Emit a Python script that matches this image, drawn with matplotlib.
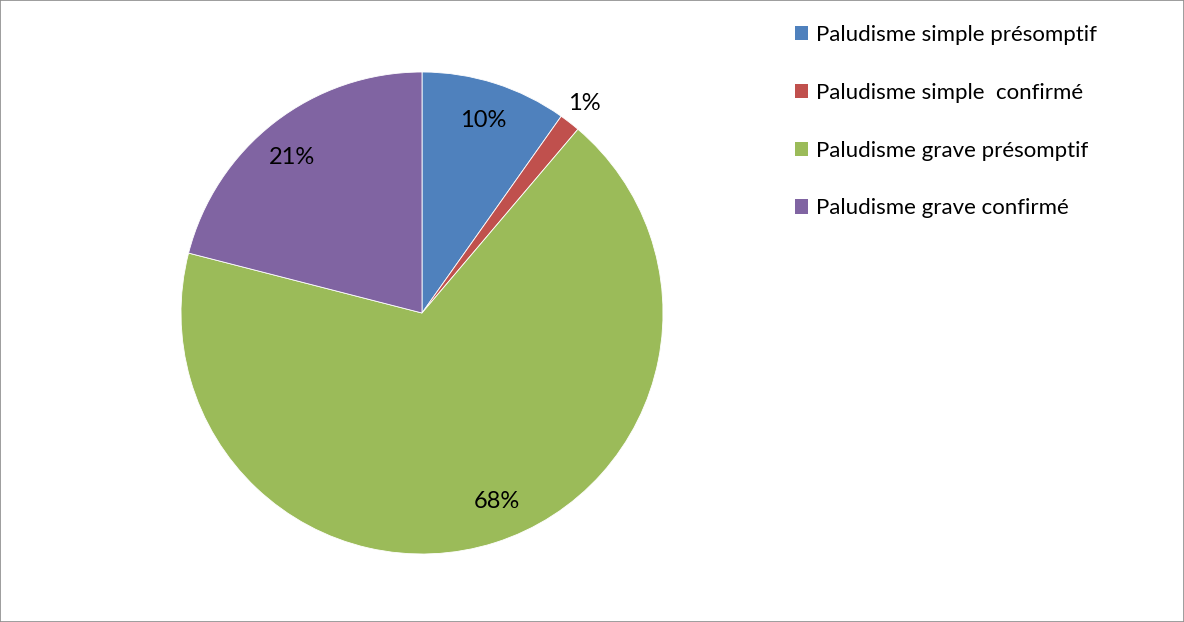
import matplotlib
matplotlib.use("Agg")
import matplotlib.pyplot as plt
from matplotlib.patches import Rectangle
import numpy as np

plt.rcParams['font.family'] = ['Lato', 'DejaVu Sans']

categories = ["Paludisme simple présomptif", "Paludisme simple  confirmé",
              "Paludisme grave présomptif", "Paludisme grave confirmé"]
values = [9.8, 1.4, 67.8, 21.0]
colors = ["#4F81BD", "#C0504D", "#9BBB59", "#8064A2"]

W, H = 1184, 622
fig = plt.figure(figsize=(W / 100, H / 100), dpi=100)
fig.patches.append(Rectangle((0, 0), 1, 1, transform=fig.transFigure,
                             fill=False, edgecolor="#8c8c8c", linewidth=1.2))

cx, cy, r = 422, 313, 241
ax = fig.add_axes([(cx - r) / W, (H - cy - r) / H, 2 * r / W, 2 * r / H])
wedges, _ = ax.pie(values, colors=colors, startangle=90, counterclock=False,
                   radius=1.0, wedgeprops=dict(linewidth=0.6, edgecolor="white"))
ax.set_xlim(-1, 1)
ax.set_ylim(-1, 1)
ax.set_aspect("equal")
ax.axis("off")

total = sum(values)
for w, v in zip(wedges, values):
    ang = np.deg2rad((w.theta1 + w.theta2) / 2)
    d = 1.10 if v < 3 else 0.84
    if v > 50:
        ang += np.deg2rad(4)
    if 15 < v < 50:
        ang += np.deg2rad(2)
    ax.text(d * np.cos(ang), d * np.sin(ang), f"{v / total * 100:.0f}%",
            ha="center", va="center", fontsize=17, color="black")

handles = [Rectangle((0, 0), 1, 1, facecolor=c, edgecolor="none") for c in colors]
fig.legend(handles, categories, loc="upper left", bbox_to_anchor=(775 / W, 1 - 5 / H),
           frameon=False, fontsize=16, handlelength=0.6, handleheight=0.6,
           handletextpad=0.35, labelspacing=1.7)

fig.savefig("out.png", dpi=100)
